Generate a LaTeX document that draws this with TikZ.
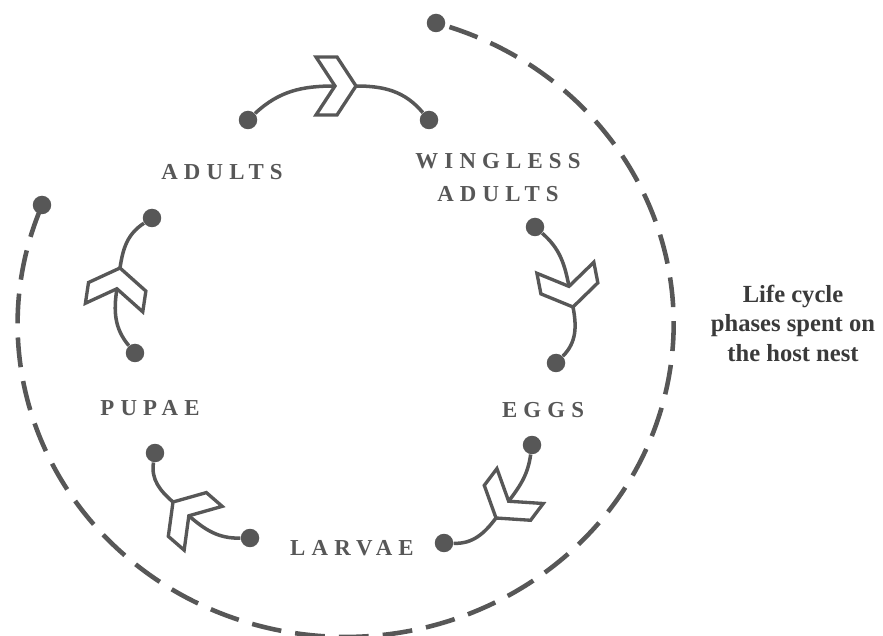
\documentclass[tikz,border=0pt]{standalone}
\usepackage{fontspec}
\setmainfont{Liberation Serif}
\newfontfamily\stagefont[LetterSpace=27]{Liberation Serif}
\usetikzlibrary{calc}

\definecolor{ink}{HTML}{575757}
\definecolor{notegray}{HTML}{3A3A3A}

\tikzset{
  dot/.style={circle, fill=ink, inner sep=0pt, minimum size=0.37cm},
  link/.style={draw=ink, line width=2pt},
  hostline/.style={draw=ink, line width=2.6pt, dash pattern=on 17pt off 8pt, dash phase=17pt},
  chevline/.style={draw=ink, fill=white, line width=1.9pt},
  stage/.style={text=ink, font=\stagefont\bfseries\fontsize{13}{18.8}\selectfont, align=center},
  note/.style={text=notegray, font=\bfseries\fontsize{14}{16.8}\selectfont, align=center},
  chevron/.pic={\path[chevline] (0,0) -- (-19,29) -- (-40,29) -- (-21,0) -- (-40,-29) -- (-19,-29) -- cycle;}
}

\begin{document}
\begin{tikzpicture}[x=0.02cm,y=0.02cm]
    \useasboundingbox (0,0) rectangle (883,636);

    % dots at the ends of each step
    \node[dot] (d1a) at (248,516) {};
    \node[dot] (d1b) at (429,516) {};
    \node[dot] (d2a) at (535,409) {};
    \node[dot] (d2b) at (556,273) {};
    \node[dot] (d3a) at (532,191) {};
    \node[dot] (d3b) at (444,93) {};
    \node[dot] (d4a) at (250,98) {};
    \node[dot] (d4b) at (155,183) {};
    \node[dot] (d5a) at (135,283) {};
    \node[dot] (d5b) at (152,418) {};

    % chevron tips and notches
    \coordinate (t1) at (356,550);
    \coordinate (t2) at (573,329);
    \coordinate (t3) at (496,118);
    \coordinate (t4) at (173,134);
    \coordinate (t5) at (120,368);
    \coordinate (n1) at ($(t1)+(180:21)$);
    \coordinate (n2) at ($(t2)+(101:21)$);
    \coordinate (n3) at ($(t3)+(53:21)$);
    \coordinate (n4) at ($(t4)+(-41:21)$);
    \coordinate (n5) at ($(t5)+(261.5:21)$);

    \draw[link] (d1a) to[out=43,in=180] (n1);
    \draw[link] (t1) to[out=0,in=130] (d1b);
    \draw[link] (d2a) to[out=-41,in=101] (n2);
    \draw[link] (t2) to[out=-79,in=45] (d2b);
    \draw[link] (d3a) to[out=-98,in=53] (n3);
    \draw[link] (t3) to[out=-127,in=-2] (d3b);
    \draw[link] (d4a) to[out=181,in=-41] (n4);
    \draw[link] (t4) to[out=139,in=-99] (d4b);
    \draw[link] (d5a) to[out=130,in=261.5] (n5);
    \draw[link] (t5) to[out=81.5,in=213] (d5b);

    \pic[rotate=0] at (t1) {chevron};
    \pic[rotate=-79] at (t2) {chevron};
    \pic[rotate=-127] at (t3) {chevron};
    \pic[rotate=139] at (t4) {chevron};
    \pic[rotate=81.5] at (t5) {chevron};

    % phases on the host nest
    \node[dot] (h1) at (436,613) {};
    \node[dot] (h2) at (42,431) {};
    \draw[hostline] (h1.center) arc[start angle=74, end angle=-202, x radius=328, y radius=313];

    \node[stage] (adults) at (222,464) {ADULTS};
    \node[stage] (wingless) at (498,458) {WINGLESS\\ADULTS};
    \node[stage] (eggs) at (543,226) {EGGS};
    \node[stage] (larvae) at (352,88) {LARVAE};
    \node[stage] (pupae) at (150,228) {PUPAE};
    \node[note] (host) at (793,313) {Life cycle\\phases spent on\\the host nest};

\end{tikzpicture}
\end{document}
